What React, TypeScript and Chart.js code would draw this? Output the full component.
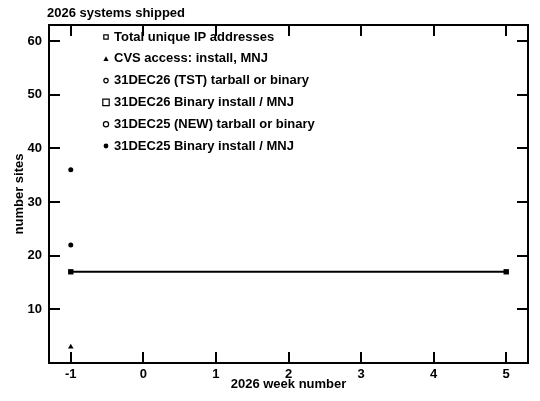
import React, { useEffect, useRef } from "react";
import { Chart, registerables } from "chart.js";

Chart.register(...registerables);

const chartTitle = "2026 systems shipped";
const xAxisTitle = "2026 week number";
const yAxisTitle = "number sites";

const seriesLabels = [
  "Total unique IP addresses",
  "CVS access: install, MNJ",
  "31DEC26 (TST) tarball or binary",
  "31DEC26 Binary install / MNJ",
  "31DEC25 (NEW) tarball or binary",
  "31DEC25 Binary install / MNJ",
];

const totalIpWeeks = [-1];
const totalIpSites = [36];
const cvsWeeks = [-1];
const cvsSites = [3];
const tst26Weeks: number[] = [];
const tst26Sites: number[] = [];
const bin26Weeks = [-1, 5];
const bin26Sites = [17, 17];
const new25Weeks: number[] = [];
const new25Sites: number[] = [];
const bin25Weeks = [-1];
const bin25Sites = [22];

const xTicks = [-1, 0, 1, 2, 3, 4, 5];
const yTicks = [10, 20, 30, 40, 50, 60];

const FONT = "'Liberation Sans', Arial, sans-serif";
const FS = 13;

const pts = (xs: number[], ys: number[]) => xs.map((x, i) => ({ x, y: ys[i] }));

// legend marker appearance: [style, filled, radius]
const legendMarkers: [string, boolean, number][] = [
  ["rect", false, 2.2],
  ["triangle", true, 2.6],
  ["circle", false, 2.2],
  ["rect", false, 3.2],
  ["circle", false, 2.6],
  ["circle", true, 2.4],
];

const frameAndLegend = {
  id: "frameAndLegend",
  afterDraw(chart: any) {
    const { ctx, chartArea } = chart;
    const { left, right, top, bottom } = chartArea;
    const xs = chart.scales.x;
    const ys = chart.scales.y;
    ctx.save();
    ctx.strokeStyle = "#000";
    ctx.lineWidth = 2;
    ctx.strokeRect(left, top, right - left, bottom - top);
    const tl = 11;
    ctx.beginPath();
    xTicks.forEach((v) => {
      const px = Math.round(xs.getPixelForValue(v));
      ctx.moveTo(px, bottom);
      ctx.lineTo(px, bottom - tl);
      ctx.moveTo(px, top);
      ctx.lineTo(px, top + tl);
    });
    yTicks.forEach((v) => {
      const py = Math.round(ys.getPixelForValue(v));
      ctx.moveTo(left, py);
      ctx.lineTo(left + tl, py);
      ctx.moveTo(right, py);
      ctx.lineTo(right - tl, py);
    });
    ctx.stroke();

    // title
    ctx.fillStyle = "#000";
    ctx.font = `bold ${FS}px ${FONT}`;
    ctx.textBaseline = "middle";
    ctx.textAlign = "left";
    ctx.fillText(chartTitle, left - 2, 13);

    // legend
    const mx = 106;
    const tx = 114;
    const y0 = 37;
    const dy = 21.8;
    seriesLabels.forEach((lab, i) => {
      const y = y0 + i * dy;
      const [style, filled, r] = legendMarkers[i];
      ctx.lineWidth = 1.2;
      ctx.strokeStyle = "#000";
      ctx.fillStyle = "#000";
      ctx.beginPath();
      if (style === "rect") {
        ctx.rect(mx - r, y - r, 2 * r, 2 * r);
      } else if (style === "triangle") {
        ctx.moveTo(mx, y - r);
        ctx.lineTo(mx + r, y + r * 0.8);
        ctx.lineTo(mx - r, y + r * 0.8);
        ctx.closePath();
      } else {
        ctx.arc(mx, y, r, 0, Math.PI * 2);
      }
      if (filled) ctx.fill();
      else ctx.stroke();
      ctx.fillStyle = "#000";
      ctx.fillText(lab, tx, y);
    });
    ctx.restore();
  },
};

export default function App() {
  const ref = useRef<HTMLCanvasElement | null>(null);
  useEffect(() => {
    if (!ref.current) return;
    const common = {
      borderColor: "#000",
      backgroundColor: "#000",
      pointBorderColor: "#000",
      pointBackgroundColor: "#000",
      borderWidth: 2,
      showLine: false,
    };
    const chart = new Chart(ref.current, {
      type: "scatter",
      data: {
        datasets: [
          { ...common, label: seriesLabels[0], data: pts(totalIpWeeks, totalIpSites), pointStyle: "circle", pointRadius: 2.5, pointBorderWidth: 0 },
          { ...common, label: seriesLabels[1], data: pts(cvsWeeks, cvsSites), pointStyle: "triangle", pointRadius: 3.2, pointBorderWidth: 0 },
          { ...common, label: seriesLabels[2], data: pts(tst26Weeks, tst26Sites), pointStyle: "circle", pointRadius: 2 },
          { ...common, label: seriesLabels[3], data: pts(bin26Weeks, bin26Sites), pointStyle: "rect", pointRadius: 3.8, pointBorderWidth: 0, showLine: true },
          { ...common, label: seriesLabels[4], data: pts(new25Weeks, new25Sites), pointStyle: "circle", pointRadius: 2.5 },
          { ...common, label: seriesLabels[5], data: pts(bin25Weeks, bin25Sites), pointStyle: "circle", pointRadius: 2.5, pointBorderWidth: 0 },
        ],
      },
      options: {
        animation: false,
        responsive: false,
        maintainAspectRatio: false,
        layout: { padding: { top: 25, right: 12, left: 0, bottom: 0 } },
        plugins: { legend: { display: false }, title: { display: false }, tooltip: { enabled: false } },
        scales: {
          x: {
            type: "linear",
            min: -1.3,
            max: 5.3,
            afterBuildTicks: (s: any) => { s.ticks = xTicks.map((v) => ({ value: v })); },
            afterFit: (s: any) => { s.height = 38; },
            grid: { display: false, drawTicks: false },
            border: { display: false },
            ticks: { color: "#000", font: { family: FONT, size: FS, weight: "bold" }, padding: 4, maxRotation: 0 },
            title: { display: true, text: xAxisTitle, color: "#000", font: { family: FONT, size: FS, weight: "bold" }, padding: { top: 0, bottom: 9 } },
          },
          y: {
            type: "linear",
            min: 0,
            max: 63,
            afterBuildTicks: (s: any) => { s.ticks = yTicks.map((v) => ({ value: v })); },
            afterFit: (s: any) => { s.width = 49; },
            grid: { display: false, drawTicks: false },
            border: { display: false },
            ticks: { color: "#000", font: { family: FONT, size: FS, weight: "bold" }, padding: 7 },
            title: { display: true, text: yAxisTitle, color: "#000", font: { family: FONT, size: FS, weight: "bold" }, padding: { top: 12, bottom: 0 } },
          },
        },
      },
      plugins: [frameAndLegend],
    } as any);
    return () => chart.destroy();
  }, []);
  return (
    <div style={{ position: "fixed", left: 0, top: 0, width: 540, height: 401, background: "#fff" }}>
      <canvas ref={ref} width={540} height={401} style={{ width: 540, height: 401 }} />
    </div>
  );
}
